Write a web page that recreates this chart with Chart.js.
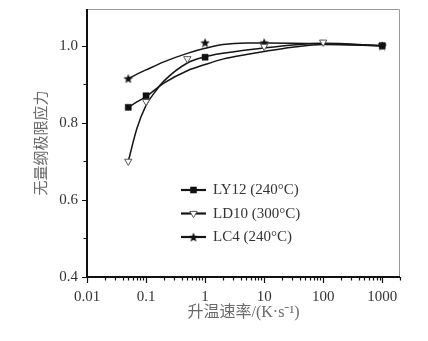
<!DOCTYPE html>
<html>
<head>
<meta charset="utf-8">
<script src="https://cdn.jsdelivr.net/npm/chart.js@4.4.1/dist/chart.umd.min.js"></script>
<style>
    body { margin: 0; background: #fff; }
    canvas { display: block; }
</style>
</head>
<body>
<canvas id="grafico" width="428" height="341"></canvas>
<script>
// Pontos medidos (marcadores)
const ly12X = [0.05, 0.1, 1, 1000];
const ly12Y = [0.84, 0.87, 0.97, 1.0];
const ld10X = [0.05, 0.1, 0.5, 10, 100, 1000];
const ld10Y = [0.70, 0.855, 0.966, 0.998, 1.009, 1.0];
const lc4X = [0.05, 1, 10, 1000];
const lc4Y = [0.915, 1.008, 1.008, 1.0];

// Curvas ajustadas
const ly12FitX = [0.05, 0.07, 0.1, 0.2, 0.5, 1, 2, 5, 10, 30, 100, 1000];
const ly12FitY = [0.84, 0.854, 0.868, 0.903, 0.935, 0.951, 0.965, 0.977, 0.985, 0.996, 1.003, 1.0];
const ld10FitX = [0.05, 0.07, 0.1, 0.15, 0.2, 0.5, 1, 2, 10, 100, 1000];
const ld10FitY = [0.70, 0.785, 0.845, 0.885, 0.908, 0.955, 0.971, 0.98, 0.994, 1.006, 1.0];
const lc4FitX = [0.05, 0.1, 0.2, 0.5, 1, 2, 5, 10, 100, 1000];
const lc4FitY = [0.915, 0.937, 0.958, 0.98, 0.993, 1.003, 1.007, 1.007, 1.005, 1.0];

const seriesNames = ['LY12 (240°C)', 'LD10 (300°C)', 'LC4 (240°C)'];
const xTicks = [0.01, 0.1, 1, 10, 100, 1000];
const yTicks = [0.4, 0.6, 0.8, 1.0];
const yMinorTicks = [0.5, 0.7, 0.9];

const pares = (xs, ys) => xs.map((x, i) => ({ x: x, y: ys[i] }));

// Estrela preenchida para os marcadores
function criarEstrela(tam) {
    const c = document.createElement('canvas');
    c.width = tam; c.height = tam;
    const g = c.getContext('2d');
    const cx = tam / 2, cy = tam / 2, rExt = tam / 2, rInt = tam / 4.6;
    g.beginPath();
    for (let i = 0; i < 10; i++) {
        const r = i % 2 === 0 ? rExt : rInt;
        const a = -Math.PI / 2 + i * Math.PI / 5;
        const px = cx + r * Math.cos(a), py = cy + r * Math.sin(a) + 0.6;
        if (i === 0) g.moveTo(px, py); else g.lineTo(px, py);
    }
    g.closePath();
    g.fillStyle = '#111';
    g.fill();
    return c;
}
const estrela = criarEstrela(10);

const fonteSerif = '"Liberation Serif", "Noto Sans CJK SC", serif';

const marcadores = [
    { pointStyle: 'rect', pointRadius: 4.3, pointRotation: 0, pointBackgroundColor: '#111', pointBorderColor: '#111', pointBorderWidth: 0.5 },
    { pointStyle: 'triangle', pointRadius: 4.2, pointRotation: 180, pointBackgroundColor: '#fff', pointBorderColor: '#555', pointBorderWidth: 1 },
    { pointStyle: estrela, pointRadius: 5, pointRotation: 0, pointBackgroundColor: '#111', pointBorderColor: '#111', pointBorderWidth: 0 }
];

function curva(xs, ys) {
    return {
        type: 'line',
        data: pares(xs, ys),
        showLine: true,
        borderColor: '#151515',
        borderWidth: 1.5,
        pointRadius: 0,
        cubicInterpolationMode: 'monotone',
        order: 2
    };
}

function pontos(nome, xs, ys, m) {
    return Object.assign({
        label: nome,
        data: pares(xs, ys),
        showLine: false,
        order: 0
    }, m);
}

// Moldura, marcas dos eixos e legenda
const pluginMoldura = {
    id: 'moldura',
    afterDraw(chart) {
        const { ctx, chartArea: a, scales } = chart;
        const sx = scales.x, sy = scales.y;
        ctx.save();
        ctx.strokeStyle = '#9a9a9a';
        ctx.lineWidth = 1;
        ctx.beginPath();
        ctx.moveTo(a.left, a.top + 0.5);
        ctx.lineTo(a.right - 0.5, a.top + 0.5);
        ctx.lineTo(a.right - 0.5, a.bottom);
        ctx.stroke();

        ctx.strokeStyle = '#111';
        ctx.lineWidth = 2;
        ctx.beginPath();
        ctx.moveTo(a.left, a.top);
        ctx.lineTo(a.left, a.bottom);
        ctx.lineTo(a.right, a.bottom);
        ctx.stroke();

        // marcas do eixo x (decadas e intermediarias)
        ctx.lineWidth = 1.2;
        ctx.beginPath();
        for (let d = 0; d < xTicks.length; d++) {
            for (let k = 1; k <= 9; k++) {
                const v = xTicks[d] * k;
                if (v > sx.max) continue;
                const px = Math.round(sx.getPixelForValue(v)) + 0.5;
                const len = k === 1 ? 6 : 3.5;
                ctx.moveTo(px, a.bottom);
                ctx.lineTo(px, a.bottom + len);
            }
        }
        // marcas do eixo y
        yTicks.forEach(v => {
            const py = Math.round(sy.getPixelForValue(v)) + 0.5;
            ctx.moveTo(a.left, py);
            ctx.lineTo(a.left - 5, py);
        });
        yMinorTicks.forEach(v => {
            const py = Math.round(sy.getPixelForValue(v)) + 0.5;
            ctx.moveTo(a.left, py);
            ctx.lineTo(a.left - 3.5, py);
        });
        ctx.stroke();

        // legenda dentro da area do grafico
        const ds = chart.data.datasets.filter(d => d.label);
        const x0 = 181, y0 = 190, passo = 23.5;
        ds.forEach((d, i) => {
            const y = y0 + i * passo;
            ctx.strokeStyle = '#151515';
            ctx.lineWidth = 2.2;
            ctx.beginPath();
            ctx.moveTo(x0, y);
            ctx.lineTo(x0 + 25, y);
            ctx.stroke();
            ctx.fillStyle = d.pointBackgroundColor;
            ctx.strokeStyle = d.pointBorderColor;
            ctx.lineWidth = d.pointBorderWidth;
            Chart.helpers.drawPoint(ctx, {
                pointStyle: d.pointStyle,
                radius: d.pointRadius,
                rotation: d.pointRotation,
                borderWidth: d.pointBorderWidth
            }, x0 + 12.5, y);
            ctx.fillStyle = '#333';
            ctx.font = '15px ' + fonteSerif;
            ctx.textBaseline = 'middle';
            ctx.textAlign = 'left';
            ctx.fillText(d.label, x0 + 32, y + 0.5);
        });
        ctx.restore();
    }
};

new Chart(document.getElementById('grafico'), {
    type: 'scatter',
    data: {
        datasets: [
            pontos(seriesNames[0], ly12X, ly12Y, marcadores[0]),
            pontos(seriesNames[1], ld10X, ld10Y, marcadores[1]),
            pontos(seriesNames[2], lc4X, lc4Y, marcadores[2]),
            curva(ly12FitX, ly12FitY),
            curva(ld10FitX, ld10FitY),
            curva(lc4FitX, lc4FitY)
        ]
    },
    options: {
        responsive: false,
        animation: false,
        layout: { padding: { top: 9, right: 28, left: 0, bottom: 0 } },
        plugins: {
            legend: { display: false },
            tooltip: { enabled: false }
        },
        scales: {
            x: {
                type: 'logarithmic',
                min: 0.01,
                max: 2000,
                afterBuildTicks: s => { s.ticks = xTicks.map(v => ({ value: v })); },
                afterFit: s => { s.height = 64; s.paddingLeft = 0; s.paddingRight = 0; },
                grid: { display: false, drawTicks: false },
                border: { display: false },
                ticks: {
                    autoSkip: false,
                    maxRotation: 0,
                    padding: 11,
                    color: '#333',
                    font: { family: fonteSerif, size: 15 },
                    callback: v => String(v)
                },
                title: {
                    display: true,
                    text: '升温速率/(K·s⁻¹)',
                    color: '#6a6a6a',
                    font: { family: fonteSerif, size: 16 },
                    padding: { top: 0, bottom: 19 }
                }
            },
            y: {
                min: 0.4,
                max: 1.095,
                afterBuildTicks: s => { s.ticks = yTicks.map(v => ({ value: v })); },
                afterFit: s => { s.width = 87; s.paddingTop = 0; s.paddingBottom = 0; },
                grid: { display: false, drawTicks: false },
                border: { display: false },
                ticks: {
                    padding: 9,
                    color: '#333',
                    font: { family: fonteSerif, size: 15 },
                    callback: v => Number(v).toFixed(1)
                },
                title: {
                    display: true,
                    text: '无量纲极限应力',
                    color: '#6a6a6a',
                    font: { family: '"Noto Sans CJK SC", sans-serif', size: 15 },
                    padding: { top: 31, bottom: 0 }
                }
            }
        }
    },
    plugins: [pluginMoldura]
});
</script>
</body>
</html>
